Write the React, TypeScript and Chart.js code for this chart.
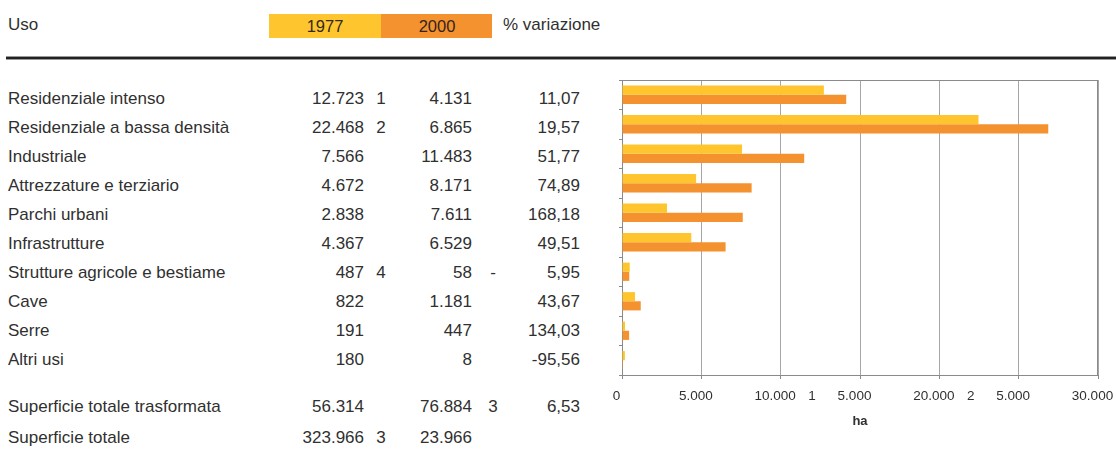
import React, { useEffect, useRef } from "react";
import { Chart, registerables } from "chart.js";

Chart.register(...registerables);

// ---- data ----
const categories = [
  "Residenziale intenso",
  "Residenziale a bassa densità",
  "Industriale",
  "Attrezzature e terziario",
  "Parchi urbani",
  "Infrastrutture",
  "Strutture agricole e bestiame",
  "Cave",
  "Serre",
  "Altri usi",
];
const values1977 = [12723, 22468, 7566, 4672, 2838, 4367, 487, 822, 191, 180];
const values2000 = [14131, 26865, 11483, 8171, 7611, 6529, 458, 1181, 447, 8];

// table text as printed
const text1977 = ["12.723", "22.468", "7.566", "4.672", "2.838", "4.367", "487", "822", "191", "180"];
const strayA = ["1", "2", "", "", "", "", "4", "", "", ""];
const text2000 = ["4.131", "6.865", "11.483", "8.171", "7.611", "6.529", "58", "1.181", "447", "8"];
const strayB = ["", "", "", "", "", "", "-", "", "", ""];
const textVar = ["11,07", "19,57", "51,77", "74,89", "168,18", "49,51", "5,95", "43,67", "134,03", "-95,56"];

const totalLabels = ["Superficie totale trasformata", "Superficie totale"];
const total1977 = ["56.314", "323.966"];
const totalStrayA = ["", "3"];
const total2000 = ["76.884", "23.966"];
const totalStrayB = ["3", ""];
const totalVar = ["6,53", ""];

const headerLabels = ["Uso", "1977", "2000", "% variazione"];

const xTickValues = [0, 5000, 10000, 15000, 20000, 25000, 30000];
const xTickLabels = ["0", "5.000", "10.000", "5.000", "20.000", "5.000", "30.000"];
const xTickStray = ["", "", "", "1", "", "2", ""];
const xAxisTitle = "ha";

// ---- styles ----
const YELLOW = "#FEC52E";
const ORANGE = "#F4922F";
const TEXT = "#303030";
const FONT = '"Liberation Sans", Arial, Helvetica, sans-serif';

const rowY = (i: number) => 98.5 + i * 29.1;
const totalY = [406.5, 437.5];

function Txt(props: { x: number; y: number; text: string; align?: "left" | "right" | "center"; size?: number; color?: string }) {
  const { x, y, text, align = "left", size = 17, color = TEXT } = props;
  const h = 24;
  const w = 300;
  let left = x;
  if (align === "right") left = x - w;
  if (align === "center") left = x - w / 2;
  return (
    <div
      style={{
        position: "absolute",
        left,
        top: y - h / 2,
        width: w,
        height: h,
        lineHeight: h + "px",
        textAlign: align,
        fontSize: size,
        fontFamily: FONT,
        color,
        whiteSpace: "pre",
      }}
    >
      {text}
    </div>
  );
}

export default function App() {
  const ref = useRef<HTMLCanvasElement | null>(null);

  useEffect(() => {
    if (!ref.current) return;
    const overlay = {
      id: "overlay",
      afterDraw(chart: any) {
        const { ctx, chartArea: a, scales } = chart;
        const x = scales.x;
        ctx.save();
        ctx.strokeStyle = "#8a8a8a";
        ctx.lineWidth = 1;
        ctx.beginPath();
        ctx.moveTo(a.left, a.top + 0.5);
        ctx.lineTo(a.right, a.top + 0.5);
        ctx.moveTo(a.right - 0.5, a.top);
        ctx.lineTo(a.right - 0.5, a.bottom);
        ctx.stroke();
        ctx.fillStyle = TEXT;
        ctx.font = "13.5px " + FONT;
        ctx.textAlign = "center";
        ctx.textBaseline = "middle";
        const ly = a.bottom + 21.5;
        xTickValues.forEach((v, i) => {
          const px = x.getPixelForValue(v);
          ctx.fillText(xTickLabels[i], px - 5.5, ly);
          if (xTickStray[i]) ctx.fillText(xTickStray[i], px - 48, ly);
        });
        ctx.font = "bold 13px " + FONT;
        ctx.fillText(xAxisTitle, x.getPixelForValue(15000), a.bottom + 46);
        ctx.restore();
      },
    };
    const chart = new Chart(ref.current, {
      type: "bar",
      data: {
        labels: categories,
        datasets: [
          { label: "1977", data: values1977, backgroundColor: YELLOW, borderWidth: 0 },
          { label: "2000", data: values2000, backgroundColor: ORANGE, borderWidth: 0 },
        ],
      },
      options: {
        indexAxis: "y",
        responsive: false,
        animation: false,
        datasets: { bar: { categoryPercentage: 0.62, barPercentage: 1.0 } },
        layout: { padding: { left: 19, right: 18, top: 10, bottom: 71 } },
        plugins: { legend: { display: false }, tooltip: { enabled: false } },
        scales: {
          x: {
            type: "linear",
            min: 0,
            max: 30000,
            ticks: { stepSize: 5000, display: false },
            grid: { color: "#a6a6a6", lineWidth: 1, drawTicks: true, tickLength: 4, tickColor: "#8a8a8a" },
            border: { display: true, color: "#8a8a8a" },
          },
          y: {
            type: "category",
            offset: true,
            ticks: { display: false },
            grid: { display: true, drawOnChartArea: false, drawTicks: true, tickLength: 3, offset: true, color: "#8a8a8a" },
            border: { display: true, color: "#8a8a8a" },
          },
        },
      } as any,
      plugins: [overlay],
    });
    return () => chart.destroy();
  }, []);

  return (
    <div style={{ position: "absolute", left: 0, top: 0, width: 1116, height: 475, background: "#fff", overflow: "hidden" }}>
      {/* header */}
      <Txt x={8} y={25} text={headerLabels[0]} size={17} />
      <div style={{ position: "absolute", left: 269, top: 14, width: 112, height: 24, background: YELLOW }} />
      <div style={{ position: "absolute", left: 381, top: 14, width: 111, height: 24, background: ORANGE }} />
      <Txt x={325} y={26} text={headerLabels[1]} align="center" size={16.5} color="#33291a" />
      <Txt x={437} y={26} text={headerLabels[2]} align="center" size={16.5} color="#33241a" />
      <Txt x={503} y={25} text={headerLabels[3]} size={17} />
      {/* rule */}
      <div style={{ position: "absolute", left: 6, top: 56, width: 1110, height: 1, background: "#9a9a9a" }} />
      <div style={{ position: "absolute", left: 6, top: 57, width: 1110, height: 2, background: "#222" }} />
      <div style={{ position: "absolute", left: 6, top: 59, width: 1110, height: 1, background: "#9a9a9a" }} />
      {/* table rows */}
      {categories.map((c, i) => (
        <React.Fragment key={c}>
          <Txt x={8} y={rowY(i)} text={c} />
          <Txt x={364} y={rowY(i)} text={text1977[i]} align="right" />
          {strayA[i] && <Txt x={381} y={rowY(i)} text={strayA[i]} align="center" />}
          <Txt x={472} y={rowY(i)} text={text2000[i]} align="right" />
          {strayB[i] && <Txt x={493} y={rowY(i)} text={strayB[i]} align="center" />}
          <Txt x={580} y={rowY(i)} text={textVar[i]} align="right" />
        </React.Fragment>
      ))}
      {totalLabels.map((c, i) => (
        <React.Fragment key={c}>
          <Txt x={8} y={totalY[i]} text={c} />
          <Txt x={364} y={totalY[i]} text={total1977[i]} align="right" />
          {totalStrayA[i] && <Txt x={381} y={totalY[i]} text={totalStrayA[i]} align="center" />}
          <Txt x={472} y={totalY[i]} text={total2000[i]} align="right" />
          {totalStrayB[i] && <Txt x={493} y={totalY[i]} text={totalStrayB[i]} align="center" />}
          {totalVar[i] && <Txt x={580} y={totalY[i]} text={totalVar[i]} align="right" />}
        </React.Fragment>
      ))}
      <canvas
        ref={ref}
        width={516}
        height={380}
        style={{ position: "absolute", left: 600, top: 70, width: 516, height: 380 }}
      />
    </div>
  );
}
